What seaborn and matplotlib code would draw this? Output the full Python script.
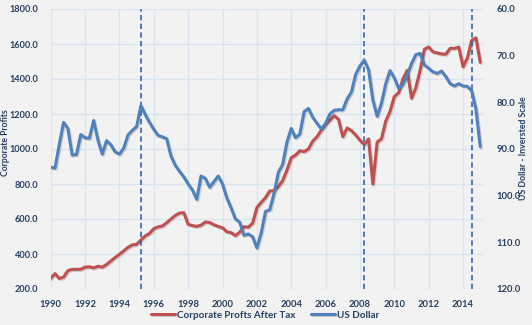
import numpy as np
import pandas as pd
import matplotlib
matplotlib.use("Agg")
import matplotlib.pyplot as plt
import matplotlib.patheffects as pe
from matplotlib.ticker import FormatStrFormatter
import seaborn as sns

# ---- data (quarterly, 1990Q1 .. 2015Q1) ----
start_year = 1990
profits = [261, 288, 260, 268, 305, 312, 312, 313, 325, 327,
           320, 330, 325, 340, 360, 380, 398, 418, 438, 452,
           455, 480, 503, 518, 545, 555, 560, 579, 600, 620,
           634, 636, 570, 562, 558, 565, 583, 580, 567, 557,
           550, 527, 522, 505, 525, 556, 553, 576, 665, 695,
           722, 760, 762, 785, 820, 880, 950, 965, 990, 985,
           1000, 1045, 1070, 1108, 1140, 1165, 1190, 1170, 1070, 1120,
           1105, 1080, 1050, 1025, 1058, 800, 1040, 1058, 1160, 1215,
           1300, 1321, 1400, 1450, 1290, 1350, 1450, 1570, 1583, 1555,
           1549, 1543, 1542, 1575, 1575, 1582, 1470, 1520, 1620, 1635,
           1495]
dollar = [93.9, 94.1, 89.0, 84.3, 85.6, 91.3, 91.2, 86.9, 87.6, 87.7,
          83.9, 88.1, 91.1, 88.2, 89.1, 90.6, 91.1, 89.8, 87.0, 86.0,
          85.2, 80.7, 82.6, 84.3, 85.8, 87.1, 87.4, 87.8, 91.5, 93.5,
          94.8, 96.0, 97.5, 98.8, 100.8, 95.8, 96.3, 98.2, 97.0, 95.8,
          97.5, 100.5, 102.6, 105.0, 105.7, 108.5, 108.2, 108.8, 111.2, 108.0,
          103.4, 103.0, 99.5, 95.0, 93.3, 88.5, 85.6, 87.6, 86.8, 82.0,
          81.3, 83.2, 84.5, 85.7, 84.5, 82.5, 81.7, 81.6, 81.6, 79.3,
          77.8, 74.0, 72.2, 71.0, 73.0, 79.5, 83.0, 80.2, 76.0, 73.2,
          74.8, 77.0, 76.2, 74.2, 71.7, 69.8, 69.5, 72.0, 72.7, 73.5,
          73.8, 73.3, 74.5, 76.0, 76.5, 76.0, 76.5, 76.6, 77.5, 81.5,
          89.5]
event_years = [1995.25, 2008.25, 2014.5]
x_ticks = list(range(1990, 2015, 2))
left_ticks = [200, 400, 600, 800, 1000, 1200, 1400, 1600, 1800]
right_ticks = [60, 70, 80, 90, 100, 110, 120]
series_names = ["Corporate Profts After Tax", "US Dollar"]

years = [start_year + 0.25 * i for i in range(len(profits))]
df = pd.DataFrame({"year": years, "profits": profits, "dollar": dollar})

sns.set_theme(style="white")
plt.rcParams["font.family"] = ["Lato", "DejaVu Sans"]

BG = "#F2F2F2"
TXT = "#243F60"
RED = "#C0504D"
BLUE = "#4F81BD"
GRID = "#D9E4F1"

fig = plt.figure(figsize=(5.32, 3.25), dpi=100, facecolor=BG)
ax = fig.add_axes([50.7 / 532, 1 - 289 / 325, (483 - 50.7) / 532, 280 / 325])
ax.set_facecolor(BG)
ax2 = ax.twinx()

shadow = [pe.SimpleLineShadow(offset=(0.8, -0.8), alpha=0.18), pe.Normal()]

sns.lineplot(data=df, x="year", y="profits", ax=ax, color=RED, linewidth=2.2,
             label=series_names[0], legend=False)
sns.lineplot(data=df, x="year", y="dollar", ax=ax2, color=BLUE, linewidth=2.2,
             label=series_names[1], legend=False)
for ln in ax.lines + ax2.lines:
    ln.set_path_effects(shadow)
    ln.set_solid_joinstyle("round")

for ev in event_years:
    ax2.axvline(ev, color="#2E64B8", linestyle=(0, (3.2, 2.0)), linewidth=1.2, zorder=1)

ax.set_xlim(1990, 2015.16)
ax.set_ylim(200, 1800)
ax2.set_ylim(120, 60)
ax.set_xticks(x_ticks)
ax.set_yticks(left_ticks)
ax2.set_yticks(right_ticks)
ax.yaxis.set_major_formatter(FormatStrFormatter("%.1f"))
ax2.yaxis.set_major_formatter(FormatStrFormatter("%.1f"))

ax.grid(True, color=GRID, linewidth=1.0)
ax.set_axisbelow(True)
for a in (ax, ax2):
    for s in a.spines.values():
        s.set_visible(False)
    a.tick_params(length=0, labelsize=6.8, labelcolor=TXT)
    for lbl in a.get_xticklabels() + a.get_yticklabels():
        lbl.set_fontweight("bold")
ax.tick_params(axis="y", pad=9, labelsize=6.6)
ax.tick_params(axis="x", pad=8)
ax2.tick_params(axis="y", pad=10)
ax.set_xlabel("")
ax.set_ylabel("")
ax2.set_ylabel("")

fig.text(5.5 / 532, 1 - 143 / 325, "Corporate Profits", rotation=90, ha="center",
         va="center", fontsize=6.2, fontweight="bold", color=TXT)
fig.text(523 / 532, 1 - 148 / 325, "US Dollar - Inversted Scale", rotation=90,
         ha="center", va="center", fontsize=6.3, fontweight="bold", color=TXT)

handles = ax.lines[:1] + ax2.lines[:1]
leg = fig.legend(handles, series_names, loc="center", bbox_to_anchor=(265 / 532, 1 - 315 / 325),
                 ncol=2, frameon=False, fontsize=7.1, handlelength=2.4, handletextpad=0.2,
                 columnspacing=1.6)
for t in leg.get_texts():
    t.set_color(TXT)
    t.set_fontweight("bold")

fig.savefig("out.png", dpi=100, facecolor=BG)
